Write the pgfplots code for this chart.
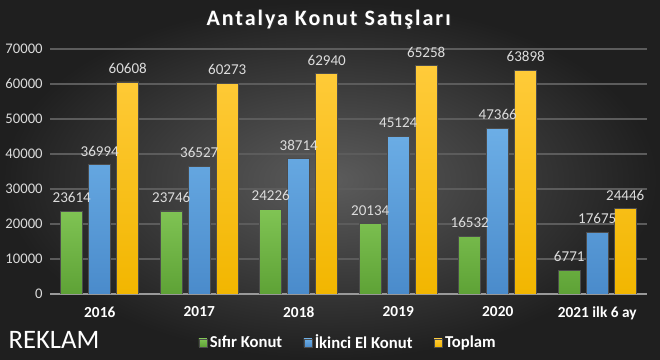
\documentclass[border=0pt]{standalone}
\usepackage{pgfplots}
\pgfplotsset{compat=1.18}
\usepackage{fontspec}
\setmainfont{Carlito}
\newfontfamily\titlefont[LetterSpace=9]{Carlito}
\definecolor{gA}{HTML}{80C454}
\definecolor{gB}{HTML}{5EA236}
\definecolor{bA}{HTML}{6CAEE6}
\definecolor{bB}{HTML}{4A8BCB}
\definecolor{yA}{HTML}{FFCB3A}
\definecolor{yB}{HTML}{F2B600}
\definecolor{tick}{HTML}{DCDCDC}
\definecolor{gridc}{HTML}{5C5C5C}
\begin{document}
\begin{tikzpicture}
\shade[inner color=black!64, outer color=black!88] (0,0) rectangle (495pt,270pt);
\begin{axis}[
  at={(37.5pt,49.5pt)}, anchor=south west,
  scale only axis, width=447.75pt, height=183.75pt,
  ybar=4.5pt, bar width=16.5pt,
  xmin=-0.5, xmax=5.5, ymin=0, ymax=70000,
  xtick={0,1,2,3,4,5},
  xticklabels={2016,2017,2018,2019,2020,2021 ilk 6 ay},
  ytick={0,10000,...,70000},
  scaled y ticks=false,
  /pgf/number format/assume math mode=true,
  yticklabel style={/pgf/number format/fixed, /pgf/number format/set thousands separator={}, font=\fontsize{11}{12}\selectfont, text=tick, xshift=-2pt},
  xticklabel style={font=\bfseries\fontsize{11.5}{13}\selectfont, text=white, yshift=-6pt},
  major tick length=0pt,
  ymajorgrids, grid style={gridc, line width=0.8pt},
  axis x line*=bottom, axis y line*=left,
  y axis line style={draw=none},
  x axis line style={draw=black!40, line width=1pt, -},
  nodes near coords,
  every node near coord/.append style={font=\fontsize{11.3}{12}\selectfont, text=tick, /pgf/number format/fixed, /pgf/number format/set thousands separator={}, inner ysep=6pt},
  legend style={at={(0.5,-0.2)}, anchor=center, draw=none, fill=none, text=white, font=\bfseries\fontsize{12.5}{14}\selectfont, legend columns=-1, /tikz/every even column/.append style={column sep=14pt}},
  legend image code/.code={\fill[#1] (0pt,-3pt) rectangle (6pt,3pt);},
]
\addplot[draw=black!70, line width=0.4pt, top color=gA, bottom color=gB] coordinates {(0,23614) (1,23746) (2,24226) (3,20134) (4,16532) (5,6771)};
\addplot[draw=black!70, line width=0.4pt, top color=bA, bottom color=bB] coordinates {(0,36994) (1,36527) (2,38714) (3,45124) (4,47366) (5,17675)};
\addplot[draw=black!70, line width=0.4pt, top color=yA, bottom color=yB] coordinates {(0,60608) (1,60273) (2,62940) (3,65258) (4,63898) (5,24446)};
\legend{Sıfır Konut, İkinci El Konut, Toplam}
\end{axis}
\node[text=black!80, font=\titlefont\bfseries\fontsize{16.5}{19}\selectfont] at (247.2pt,254.2pt) {Antalya Konut Satışları};
\node[text=white, font=\titlefont\bfseries\fontsize{16.5}{19}\selectfont] at (246.4pt,255pt) {Antalya Konut Satışları};
\node[text=white, font=\fontsize{20}{24}\selectfont] at (40.5pt,15pt) {REKLAM};
\pgfresetboundingbox
\useasboundingbox (0,0) rectangle (495pt,270pt);
\end{tikzpicture}
\end{document}
